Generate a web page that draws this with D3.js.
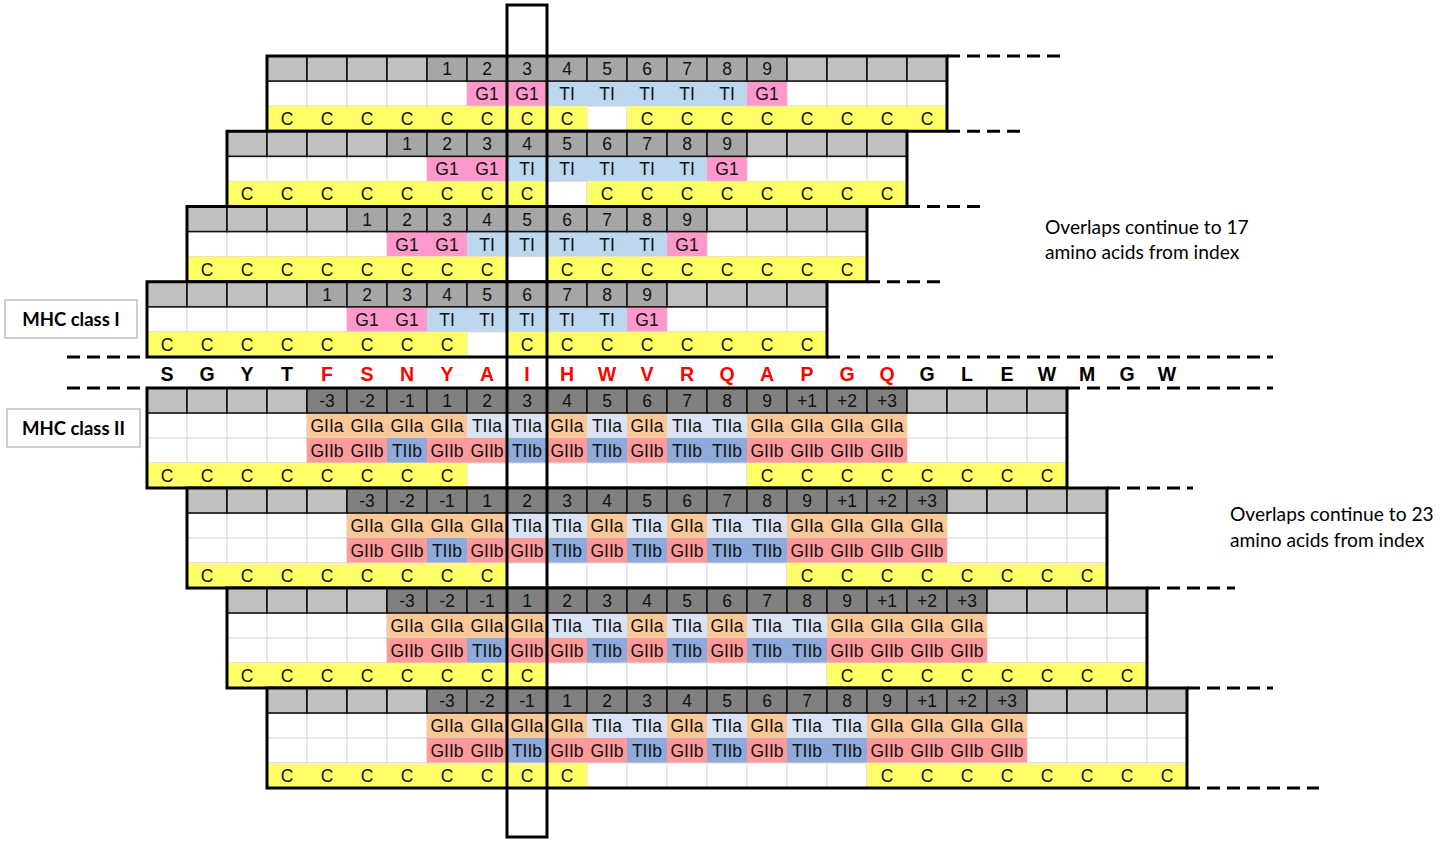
<!DOCTYPE html>
<html>
<head>
<meta charset="utf-8">
<script src="https://cdn.jsdelivr.net/npm/d3@7"></script>
<style>body { margin: 0; background: #fff; }</style>
</head>
<body>
<script>
'use strict';
const W = 1439, H = 845;

// peptide sequence along the bottom of the class I panel
const sequence = ['S','G','Y','T','F','S','N','Y','A','I','H','W','V','R','Q','A','P','G','Q','G','L','E','W','M','G','W'];
const sequenceRed = [0,0,0,0,1,1,1,1,1,1,1,1,1,1,1,1,1,1,1,0,0,0,0,0,0,0];
const indexCol = 9;

// MHC class I: 17-residue windows, top block first (start column of each window)
const classIStarts = [3, 2, 1, 0];
const classIPos = ['','','','','1','2','3','4','5','6','7','8','9','','','',''];
const classIPocket = ['','','','','','G1','G1','TI','TI','TI','TI','TI','G1','','','',''];
const classIContext = ['C','C','C','C','C','C','C','C','','C','C','C','C','C','C','C','C'];

// MHC class II: 23-residue windows
const classIIStarts = [0, 1, 2, 3];
const classIIPos = ['','','','','-3','-2','-1','1','2','3','4','5','6','7','8','9','+1','+2','+3','','','',''];
const classIIPocketA = ['','','','','GIIa','GIIa','GIIa','GIIa','TIIa','TIIa','GIIa','TIIa','GIIa','TIIa','TIIa','GIIa','GIIa','GIIa','GIIa','','','',''];
const classIIPocketB = ['','','','','GIIb','GIIb','TIIb','GIIb','GIIb','TIIb','GIIb','TIIb','GIIb','TIIb','TIIb','GIIb','GIIb','GIIb','GIIb','','','',''];
const classIIContext = ['C','C','C','C','C','C','C','C','','','','','','','','C','C','C','C','C','C','C','C'];

// dashed continuation lines: [row boundary, from column, to column]
const dashesI = [[0, 20, 23], [3, 20, 22], [6, 19, 21], [9, 18, 20], [12, 17, 28.15], [12, -2, -0.1]];
const dashesII = [[0, 23, 28.15], [0, -2, -0.1], [4, 24, 26.15], [8, 25, 27.2], [12, 26, 28.15], [16, 26, 29.3]];

const FILL = {
  G1: '#ff99cc', TI: '#bdd7ee',
  GIIa: '#fac796', TIIa: '#dae3f3',
  GIIb: '#ff9a9a', TIIb: '#8eaadb',
  C: '#ffff66'
};
const LIGHT = '#c0c0c0', DARK_I = '#a6a6a6', DARK_II = '#808080';
const FONT = '"Liberation Sans", Arial, sans-serif';
const NOTE_FONT = 'Lato, "Open Sans", sans-serif';
const CELL_SIZE = 17.5;

const x = d3.scaleLinear().domain([0, 26]).range([147, 147 + 40 * 26]);
const yI = d3.scaleLinear().domain([0, 12]).range([56, 357]);
const yII = d3.scaleLinear().domain([0, 16]).range([388, 788]);
const cw = x(1) - x(0);

const svg = d3.select('body').append('svg')
  .attr('width', W).attr('height', H)
  .attr('viewBox', `0 0 ${W} ${H}`);
svg.append('rect').attr('width', W).attr('height', H).attr('fill', '#fff');

function addText(parent, tx, ty, text, size, weight, fill, anchor, family) {
  return parent.append('text')
    .attr('x', tx).attr('y', ty)
    .attr('text-anchor', anchor || 'middle')
    .attr('dominant-baseline', 'central')
    .attr('font-family', family || FONT)
    .attr('font-size', size)
    .attr('font-weight', weight || 400)
    .attr('fill', fill || '#000')
    .text(text);
}

// one window block: numbered header row, then label rows
function drawBlock(start, row0, rows, yScale, r0, dark) {
  const g = svg.append('g');
  const n = row0.length;
  const rh = yScale(1) - yScale(0);

  rows.forEach((labels, ri) => {
    const ty = yScale(r0 + 1 + ri);
    labels.forEach((lab, i) => {
      g.append('rect')
        .attr('x', x(start + i)).attr('y', ty)
        .attr('width', cw).attr('height', rh)
        .attr('fill', '#fff').attr('stroke', '#d9d9d9').attr('stroke-width', 1);
    });
    labels.forEach((lab, i) => {
      if (!lab) return;
      g.append('rect')
        .attr('x', x(start + i)).attr('y', ty)
        .attr('width', cw).attr('height', rh)
        .attr('fill', FILL[lab]);
      addText(g, x(start + i) + cw / 2, ty + rh / 2 + 0.5, lab, CELL_SIZE, 400, '#111');
    });
  });

  const hy = yScale(r0);
  row0.forEach((lab, i) => {
    g.append('rect')
      .attr('x', x(start + i)).attr('y', hy)
      .attr('width', cw).attr('height', rh)
      .attr('fill', lab ? dark : LIGHT)
      .attr('stroke', '#111').attr('stroke-width', 1.6);
    if (lab) addText(g, x(start + i) + cw / 2, hy + rh / 2 + 0.5, lab, CELL_SIZE, 400, '#111');
  });

  g.append('rect')
    .attr('x', x(start)).attr('y', hy)
    .attr('width', x(start + n) - x(start))
    .attr('height', yScale(r0 + 1 + rows.length) - hy)
    .attr('fill', 'none').attr('stroke', '#000').attr('stroke-width', 3);
}

classIStarts.forEach((s, b) => {
  drawBlock(s, classIPos, [classIPocket, classIContext], yI, b * 3, DARK_I);
});
classIIStarts.forEach((s, b) => {
  drawBlock(s, classIIPos, [classIIPocketA, classIIPocketB, classIIContext], yII, b * 4, DARK_II);
});

// dashed continuation lines
function drawDashes(list, yScale) {
  list.forEach(([r, c0, c1]) => {
    svg.append('line')
      .attr('x1', x(c0)).attr('x2', x(c1))
      .attr('y1', yScale(r)).attr('y2', yScale(r))
      .attr('stroke', '#000').attr('stroke-width', 3)
      .attr('stroke-dasharray', '13,7');
  });
}
drawDashes(dashesI, yI);
drawDashes(dashesII, yII);

// sequence letters
const seqY = (yI(12) + yII(0)) / 2;
sequence.forEach((aa, i) => {
  addText(svg, x(i) + cw / 2, seqY + 1, aa, 19.5, 700, sequenceRed[i] ? '#ff0000' : '#000');
});

// side labels
function labelBox(bx, by, bw, bh, text) {
  svg.append('rect')
    .attr('x', bx).attr('y', by).attr('width', bw).attr('height', bh)
    .attr('fill', '#fff').attr('stroke', '#bfbfbf').attr('stroke-width', 1.5);
  addText(svg, bx + bw / 2, by + bh / 2, text, 18.5, 700, '#000', 'middle', NOTE_FONT);
}
labelBox(5, 300, 132, 38, 'MHC class I');
labelBox(7, 409, 133, 38, 'MHC class II');

addText(svg, 1045, 226, 'Overlaps continue to 17', 19.2, 400, '#000', 'start', NOTE_FONT);
addText(svg, 1045, 251, 'amino acids from index', 19.2, 400, '#000', 'start', NOTE_FONT);
addText(svg, 1230, 513, 'Overlaps continue to 23', 19.2, 400, '#000', 'start', NOTE_FONT);
addText(svg, 1230, 539, 'amino acids from index', 19.2, 400, '#000', 'start', NOTE_FONT);

// index column frame
svg.append('rect')
  .attr('x', x(indexCol)).attr('y', 5)
  .attr('width', cw).attr('height', 832)
  .attr('fill', 'none').attr('stroke', '#000').attr('stroke-width', 3);
</script>
</body>
</html>
